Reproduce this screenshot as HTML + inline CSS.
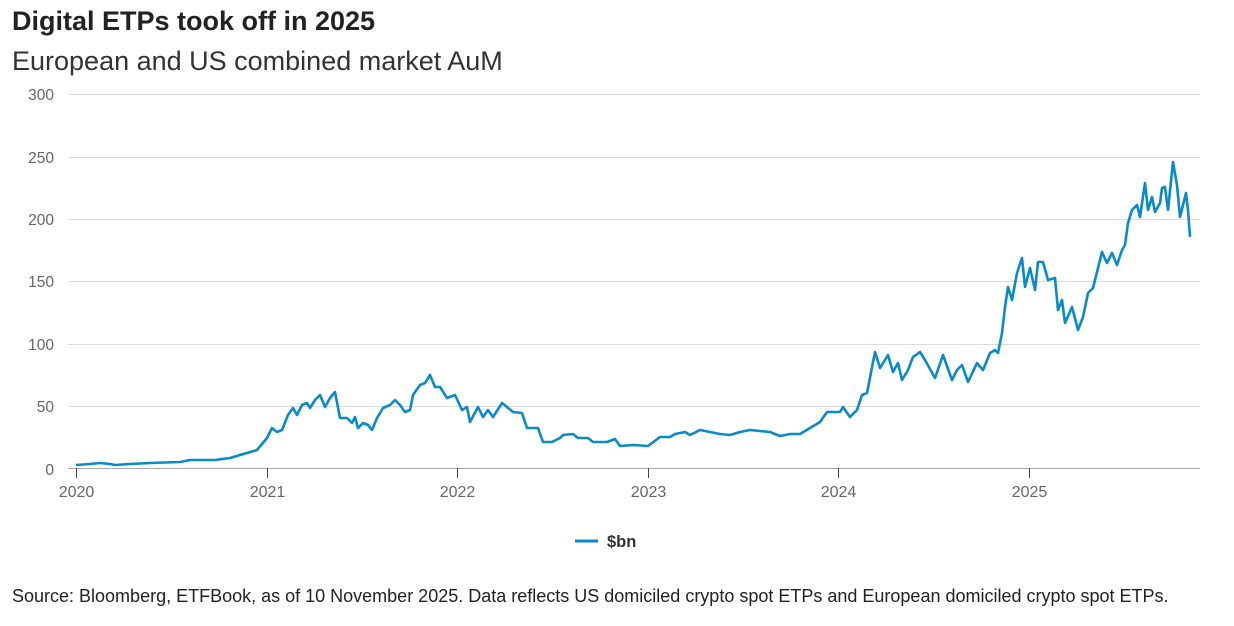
<!DOCTYPE html>
<html><head><meta charset="utf-8"><style>
body{margin:0;background:#fff;width:1234px;height:621px;overflow:hidden;font-family:"Liberation Sans",Arial,sans-serif}
</style></head><body>
<svg width="1234" height="621" xmlns="http://www.w3.org/2000/svg" font-family="Liberation Sans, Arial, sans-serif">
<text x="12" y="30" font-size="27" font-weight="bold" fill="#222">Digital ETPs took off in 2025</text>
<text x="12" y="70" font-size="27" fill="#333">European and US combined market AuM</text>
<g stroke="#dcdcdc" stroke-width="1">
<line x1="68" x2="1200" y1="94.5" y2="94.5"/><line x1="68" x2="1200" y1="157.5" y2="157.5"/>
<line x1="68" x2="1200" y1="219.5" y2="219.5"/><line x1="68" x2="1200" y1="281.5" y2="281.5"/>
<line x1="68" x2="1200" y1="344.5" y2="344.5"/><line x1="68" x2="1200" y1="406.5" y2="406.5"/>
</g>
<line x1="68" x2="1200" y1="468.5" y2="468.5" stroke="#aaa" stroke-width="1"/>
<g stroke="#444"><line x1="76.5" x2="76.5" y1="468" y2="478"/><line x1="267.5" x2="267.5" y1="468" y2="478"/><line x1="457.5" x2="457.5" y1="468" y2="478"/><line x1="648.5" x2="648.5" y1="468" y2="478"/><line x1="838.5" x2="838.5" y1="468" y2="478"/><line x1="1029.5" x2="1029.5" y1="468" y2="478"/></g>
<g font-size="15.5" fill="#666" text-anchor="end">
<text x="54" y="100">300</text><text x="54" y="163">250</text><text x="54" y="225">200</text><text x="54" y="287">150</text><text x="54" y="350">100</text><text x="54" y="412">50</text><text x="54" y="475">0</text>
</g>
<g font-size="16" fill="#666" text-anchor="middle">
<text x="76.5" y="497">2020</text><text x="267.5" y="497">2021</text><text x="457.5" y="497">2022</text><text x="648.5" y="497">2023</text><text x="838.5" y="497">2024</text><text x="1029.5" y="497">2025</text>
</g>
<polyline fill="none" stroke="#0a8ac8" stroke-width="2.6" stroke-linejoin="round" points="76,465 90,464 100,463 110,464 115,465 130,464 150,463 180,462 190,460 215,460 230,458 240,455 257,450 267,438 272,428 277,432 282,430 288,415 293,408 297,415 302,405 307,403 310,408 315,400 320,395 325,407 330,398 335,392 340,418 347,418 352,423 355,417 358,428 363,423 368,425 372,430 377,418 383,408 390,405 395,400 400,405 405,412 410,410 413,395 420,385 425,383 430,375 435,387 440,387 447,398 455,395 462,410 467,407 470,422 478,407 483,417 488,410 493,417 502,403 507,407 513,412 522,413 527,428 538,428 543,442 552,442 560,438 563,435 573,434 578,438 588,438 593,442 607,442 615,439 620,446 633,445 648,446 660,437 670,437 675,434 685,432 690,435 700,430 710,432 720,434 730,435 740,432 750,430 760,431 770,432 780,436 790,434 800,434 810,428 820,422 827,412 840,412 843,407 850,417 857,410 862,395 867,393 875,352 880,368 888,355 893,372 898,363 902,380 908,370 913,357 920,352 925,360 935,378 943,355 952,380 957,370 962,365 968,382 977,363 983,370 990,353 995,350 998,353 1002,333 1005,307 1008,287 1012,300 1017,273 1022,258 1025,287 1030,268 1035,290 1038,262 1043,262 1048,280 1055,278 1058,310 1062,300 1065,323 1072,307 1078,330 1083,317 1088,293 1093,288 1097,272 1102,252 1107,263 1112,253 1117,265 1122,250 1125,245 1128,223 1132,210 1137,205 1140,217 1145,183 1148,210 1152,197 1155,212 1160,203 1162,188 1165,187 1168,210 1173,162 1177,185 1180,217 1183,205 1186,193 1188,210 1190,237"/>
<line x1="575" x2="598" y1="541" y2="541" stroke="#0a8ac8" stroke-width="3"/>
<text x="607" y="547" font-size="16.5" font-weight="bold" fill="#333">$bn</text>
<text x="12" y="602" font-size="18" fill="#222">Source: Bloomberg, ETFBook, as of 10 November 2025. Data reflects US domiciled crypto spot ETPs and European domiciled crypto spot ETPs.</text>
</svg>
</body></html>
